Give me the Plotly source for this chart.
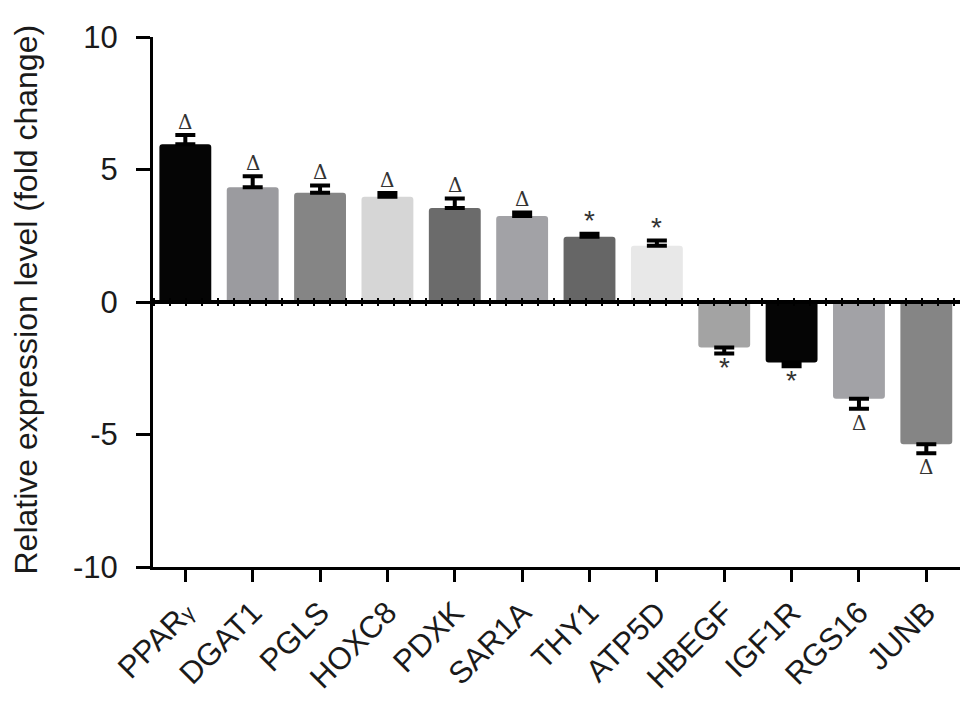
import plotly.graph_objects as go

genes = ["PPAR<span style='font-size:21px'>γ</span>", "DGAT1", "PGLS", "HOXC8", "PDXK", "SAR1A",
         "THY1", "ATP5D", "HBEGF", "IGF1R", "RGS16", "JUNB"]
values = [5.95, 4.33, 4.12, 3.97, 3.55, 3.25, 2.46, 2.12, -1.72, -2.28, -3.65, -5.37]
errors = [0.35, 0.42, 0.28, 0.14, 0.36, 0.13, 0.12, 0.2, 0.22, 0.14, 0.38, 0.34]
marks = ["Δ", "Δ", "Δ", "Δ", "Δ", "Δ", "*", "*", "*", "*", "Δ", "Δ"]
colors = ["#050505", "#9b9b9f", "#858585", "#d6d6d6", "#6b6b6b", "#a2a2a6",
          "#666666", "#e8e8e8", "#a3a3a3", "#050505", "#a2a2a6", "#858585"]
y_ticks = [-10, -5, 0, 5, 10]
y_title = "Relative expression level (fold change)"

x = list(range(len(genes)))
err_plus = [e if v > 0 else 0 for v, e in zip(values, errors)]
err_minus = [e if v < 0 else 0 for v, e in zip(values, errors)]

fig = go.Figure()
fig.add_trace(go.Bar(
    x=x, y=values, width=0.77,
    marker=dict(color=colors, line=dict(width=0), cornerradius=3),
    error_y=dict(type="data", symmetric=False, array=err_plus, arrayminus=err_minus,
                 color="black", thickness=4, width=10),
    showlegend=False,
))

# zero line with small tick pattern (GraphPad style)
fig.add_shape(type="line", xref="paper", x0=0, x1=1, yref="y", y0=0, y1=0,
              line=dict(color="black", width=8, dash="2px,14px"), layer="above")
fig.add_shape(type="line", xref="paper", x0=0, x1=1, yref="y", y0=0, y1=0,
              line=dict(color="black", width=4), layer="above")

for xi, v, e, m in zip(x, values, errors, marks):
    top = v + e if v > 0 else v - e
    fig.add_annotation(
        x=xi, y=top, text=m, showarrow=False,
        yanchor="middle", yshift=(13 if v > 0 else -14),
        font=dict(family="DejaVu Serif" if m == "Δ" else "Liberation Sans",
                  size=20 if m == "Δ" else 28, color="#333333"),
    )

fig.add_annotation(
    xref="paper", yref="paper", x=(26 - 153) / 807, y=(567 - 297) / 535,
    xanchor="center", yanchor="middle", text=y_title, textangle=-90,
    showarrow=False, font=dict(size=32, color="#1a1a1a"),
)

fig.update_layout(
    width=971, height=705,
    margin=dict(l=145, r=19, t=24, b=146),
    paper_bgcolor="white", plot_bgcolor="white",
    font=dict(family="Liberation Sans, Arial, sans-serif", size=31, color="#1a1a1a"),
)
fig.update_xaxes(
    range=[-0.48, 11.5], tickmode="array", tickvals=x, ticktext=genes,
    tickangle=-45, showline=True, linecolor="black", linewidth=3,
    ticks="outside", ticklen=12, tickwidth=3, tickcolor="black",
    showgrid=False, zeroline=False, tickfont=dict(size=31),
)
fig.update_yaxes(
    range=[-10, 10], tickmode="array", tickvals=y_ticks,
    ticktext=[str(t) for t in y_ticks],
    showline=True, linecolor="black", linewidth=3,
    ticks="outside", ticklen=14, tickwidth=3, tickcolor="black",
    showgrid=False, zeroline=False,
    ticklabelstandoff=12,
    tickfont=dict(size=31),
)

fig.write_html("out.html")
